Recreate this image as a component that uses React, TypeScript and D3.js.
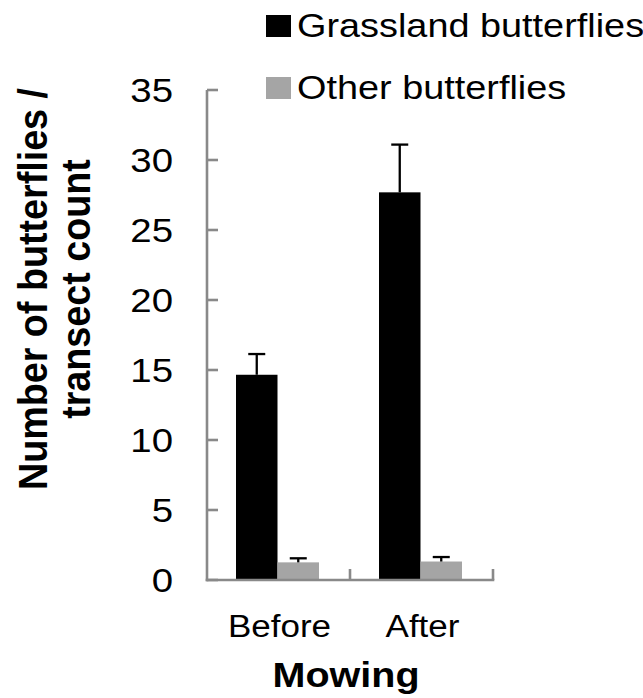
import React from "react";
import * as d3 from "d3";

const categories = ["Before", "After"];
const seriesNames = ["Grassland butterflies", "Other butterflies"];
const grasslandMeans = [14.66, 27.69];
const grasslandErrTop = [16.14, 31.1];
const otherMeans = [1.26, 1.32];
const otherErrTop = [1.55, 1.64];
const yTicks = [0, 5, 10, 15, 20, 25, 30, 35];
const seriesColors = ["#000000", "#a5a5a5"];

const W = 643;
const H = 698;
const FONT = "'Liberation Sans', Arial, sans-serif";
const SX = 1.13;

export default function App() {
  const y = d3.scaleLinear().domain([0, 35]).range([580, 90]);
  const x0 = d3.scaleBand<string>().domain(categories).range([207, 493]);
  const bw = x0.bandwidth();
  const groupW = 83;
  const x1 = d3
    .scaleBand<string>()
    .domain(seriesNames)
    .range([(bw - groupW) / 2 - 1, (bw + groupW) / 2 - 1]);

  const means = [grasslandMeans, otherMeans];
  const errs = [grasslandErrTop, otherErrTop];
  const axisColor = "#898989";

  return (
    <svg
      width={W}
      height={H}
      style={{ position: "absolute", left: 0, top: 0, background: "#fff" }}
      fontFamily={FONT}
    >
      {/* bars */}
      {categories.map((c, ci) =>
        seriesNames.map((s, si) => {
          const bx = (x0(c) as number) + (x1(s) as number);
          const v = means[si][ci];
          const e = errs[si][ci];
          const cx = bx + x1.bandwidth() / 2;
          return (
            <g key={c + s}>
              <rect
                x={bx}
                y={y(v)}
                width={x1.bandwidth()}
                height={y(0) - y(v)}
                fill={seriesColors[si]}
              />
              <line x1={cx} x2={cx} y1={y(v)} y2={y(e)} stroke="#000" strokeWidth={2.3} />
              <line x1={cx - 8.5} x2={cx + 8.5} y1={y(e)} y2={y(e)} stroke="#000" strokeWidth={2.3} />
            </g>
          );
        })
      )}

      {/* y axis */}
      <line x1={207} x2={207} y1={y(35)} y2={y(0) + 1.3} stroke={axisColor} strokeWidth={2.6} />
      {yTicks.map((t) => (
        <g key={t}>
          <line x1={207} x2={218} y1={y(t)} y2={y(t)} stroke={axisColor} strokeWidth={2.6} />
          <text
            transform={`translate(173,${y(t) + 12.3}) scale(${SX},1)`}
            textAnchor="end"
            fontSize={34}
            fill="#000"
          >
            {t}
          </text>
        </g>
      ))}

      {/* x axis */}
      <line x1={205.7} x2={494.3} y1={y(0)} y2={y(0)} stroke={axisColor} strokeWidth={2.6} />
      {categories.map((c) => (
        <line
          key={c}
          x1={(x0(c) as number) + bw}
          x2={(x0(c) as number) + bw}
          y1={y(0)}
          y2={y(0) - 11}
          stroke={axisColor}
          strokeWidth={2.6}
        />
      ))}
      {categories.map((c) => (
        <text
          key={c}
          transform={`translate(${(x0(c) as number) + bw / 2 + 1},637) scale(${SX},1)`}
          textAnchor="middle"
          fontSize={31}
          fill="#000"
        >
          {c}
        </text>
      ))}

      {/* axis titles */}
      <text
        transform={`translate(346,687) scale(${SX},1)`}
        textAnchor="middle"
        fontSize={35}
        fontWeight="bold"
        fill="#000"
      >
        Mowing
      </text>
      <g transform={`translate(0,289) scale(1.07,1)`}>
        <text
          transform={`translate(${47 / 1.07},0) rotate(-90)`}
          textAnchor="middle"
          fontSize={37.7}
          fontWeight="bold"
          fill="#000"
        >
          Number of butterflies /
        </text>
        <text
          transform={`translate(${90 / 1.07},0) rotate(-90)`}
          textAnchor="middle"
          fontSize={37.7}
          fontWeight="bold"
          fill="#000"
        >
          transect count
        </text>
      </g>

      {/* legend */}
      {seriesNames.map((s, i) => (
        <g key={s}>
          <rect x={266} y={15 + i * 62} width={25} height={22} fill={seriesColors[i]} />
          <text
            transform={`translate(297,${37 + i * 62}) scale(${SX},1)`}
            fontSize={33.5}
            fill="#000"
          >
            {s}
          </text>
        </g>
      ))}
    </svg>
  );
}
